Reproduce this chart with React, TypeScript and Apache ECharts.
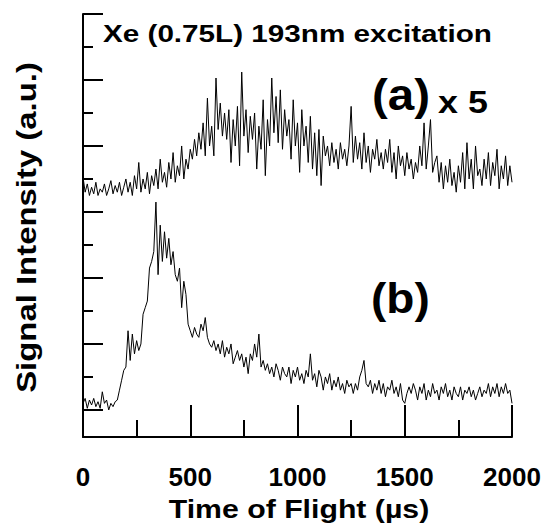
import React, { useEffect, useRef } from "react";
import * as echarts from "echarts";

// Sampling grid of the time-of-flight axis (µs), one sample every 10 µs
const TIME = Array.from({ length: 201 }, (_, i) => i * 10);

// Tick marks / labels
const X_TICK_LABELS = [0, 500, 1000, 1500, 2000];
const X_MAJOR_TICKS = [500, 1000, 1500, 2000];
const X_MINOR_TICKS = [250, 750, 1250, 1750];
const Y_MAJOR_TICKS = [0, 2, 4, 6, 8, 10, 12];
const Y_MINOR_TICKS = [1, 3, 5, 7, 9, 11];

// Trace (a) x 5 (offset upward)
const TRACE_A = [
  7.06, 6.6, 6.85, 6.5, 6.75, 6.55, 6.9, 6.5, 6.7, 6.6,
  6.85, 6.5, 6.7, 6.95, 6.55, 6.8, 6.6, 6.9, 6.5, 6.75,
  7.0, 6.6, 6.9, 6.5, 7.1, 6.7, 7.5, 6.6, 7.0, 6.7,
  7.2, 6.55, 7.1, 6.8, 7.3, 6.7, 7.6, 6.9, 7.2, 6.75,
  7.5, 7.0, 7.8, 6.9, 7.4, 7.1, 8.0, 7.0, 7.6, 7.3,
  7.9, 7.6, 8.2, 7.7, 8.4, 7.9, 8.7, 7.7, 9.45, 8.0,
  8.6, 7.7, 10.06, 8.5, 9.3, 8.3, 9.0, 8.2, 9.1, 7.5,
  8.8, 8.0, 9.2, 7.4, 10.24, 8.3, 9.1, 7.8, 8.9, 8.2,
  9.0, 7.3, 8.6, 7.9, 9.4, 7.1, 8.8, 8.0, 10.06, 8.4,
  9.5, 8.1, 9.7, 7.9, 9.1, 8.3, 8.8, 7.6, 9.4, 8.0,
  8.7, 7.2, 9.1, 8.0, 8.6, 7.5, 8.9, 7.3, 8.4, 7.1,
  8.5, 6.8, 8.3, 7.7, 8.0, 7.4, 8.1, 7.5, 7.9, 7.3,
  8.1, 7.6, 7.9, 7.4, 8.0, 9.2, 7.5, 8.3, 7.6, 8.1,
  7.3, 8.4, 7.5, 8.0, 7.2, 7.9, 7.6, 8.2, 7.4, 7.8,
  7.3, 7.9, 7.5, 8.2, 7.2, 7.8, 7.0, 8.0, 7.4, 7.7,
  7.1, 7.8, 7.3, 7.6, 7.0, 7.5, 7.2, 8.0, 7.4, 8.7,
  7.3, 8.0, 8.8, 7.2, 7.5, 7.7, 6.9, 7.5, 6.7, 7.4,
  6.9, 7.6, 6.8, 7.2, 6.6, 7.4, 6.9, 7.8, 6.7, 8.1,
  7.0, 7.6, 6.7, 8.0, 7.1, 7.3, 6.8, 7.6, 7.0, 7.8,
  6.8, 7.5, 7.1, 7.9, 6.7, 7.4, 7.0, 7.7, 6.8, 7.4,
  6.9,
];

// Trace (b)
const TRACE_B = [
  0.2, 0.35, 0.05, 0.3, 0.15, 0.35, 0.1, 0.25, 0.05, 0.55,
  0.2, 0.3, 0.0, 0.2, 0.1, 0.25, 0.3, 0.6, 0.9, 1.2,
  1.3, 2.4, 1.5, 2.3, 1.7, 2.1, 1.8, 2.0, 2.9, 3.1,
  3.3, 4.3, 4.5, 4.8, 6.3, 4.1, 5.6, 4.5, 5.4, 4.6,
  5.2, 4.4, 4.8, 4.1, 3.9, 4.3, 3.1, 3.9, 3.5, 2.6,
  2.4, 2.2, 2.5, 2.3, 2.2, 2.6, 2.4, 2.8, 2.2, 2.0,
  1.9, 2.1, 1.8, 2.0, 1.7, 2.1, 1.6, 1.9, 1.7, 2.0,
  1.4, 1.6, 1.8, 1.5, 1.7, 1.3, 1.6, 1.1, 1.7, 1.5,
  2.0, 1.6, 2.3, 1.3, 1.5, 1.2, 1.4, 1.1, 1.3, 1.0,
  1.4, 1.2, 0.9, 1.3, 1.1, 1.0, 1.3, 0.8, 1.2, 1.0,
  1.3, 0.9, 1.1, 0.8, 1.2, 1.0, 1.7, 0.9, 1.1, 0.7,
  1.2, 1.0, 0.6, 1.0, 0.8, 1.1, 0.6, 0.9, 0.7, 1.0,
  0.6, 0.8, 0.5, 0.9, 0.7, 0.8, 0.5, 0.8, 0.6, 1.0,
  1.2, 1.5, 0.8, 0.7, 0.9, 0.5, 0.8, 0.6, 0.9, 0.5,
  0.8, 0.4, 0.7, 0.6, 0.9, 0.5, 0.7, 0.4, 0.8, 0.3,
  0.2, 0.5, 0.7, 0.5, 0.8, 0.6, 0.3, 0.7, 0.5, 0.8,
  0.3, 0.6, 0.4, 0.8, 0.5, 0.6, 0.3, 0.7, 0.5, 0.8,
  0.4, 0.6, 0.3, 0.7, 0.5, 0.4, 0.7, 0.3, 0.6, 0.5,
  0.7, 0.4, 0.6, 0.3, 0.5, 0.7, 0.4, 0.6, 0.5, 0.8,
  0.4, 0.7, 0.5, 0.8, 0.4, 0.7, 0.5, 0.8, 0.5, 0.6,
  0.2,
];

const FONT = '"Liberation Sans", Arial, Helvetica, sans-serif';
const BLACK = "#000";

export default function App() {
  const ref = useRef<HTMLDivElement>(null);

  useEffect(() => {
    if (!ref.current) return;
    const chart = echarts.init(ref.current, undefined, { renderer: "svg" });

    const tickStyle = { color: BLACK, width: 2 };
    const yBase = {
      type: "value" as const,
      min: -0.82,
      max: 12,
      position: "left" as const,
      offset: 0,
      axisLabel: { show: false },
      splitLine: { show: false },
    };
    const xBase = {
      type: "value" as const,
      min: 0,
      max: 2000,
      position: "bottom" as const,
      offset: 0,
      splitLine: { show: false },
    };

    chart.setOption({
      animation: false,
      backgroundColor: "#fff",
      grid: { left: 83, top: 14, right: 38, bottom: 86 },
      xAxis: [
        {
          ...xBase,
          axisLine: { show: true, onZero: false, lineStyle: { color: BLACK, width: 2 } },
          axisTick: {
            show: true,
            inside: true,
            length: 32,
            lineStyle: tickStyle,
            customValues: X_MAJOR_TICKS,
          },
          axisLabel: {
            show: true,
            customValues: X_TICK_LABELS,
            formatter: (v: number) => String(v),
            margin: 27,
            color: BLACK,
            fontSize: 26,
            fontWeight: "bold",
            fontFamily: FONT,
          },
        },
        {
          ...xBase,
          axisLine: { show: false, onZero: false },
          axisTick: {
            show: true,
            inside: true,
            length: 17,
            lineStyle: tickStyle,
            customValues: X_MINOR_TICKS,
          },
          axisLabel: { show: false },
        },
      ],
      yAxis: [
        {
          ...yBase,
          axisLine: { show: true, onZero: false, lineStyle: { color: BLACK, width: 2 } },
          axisTick: {
            show: true,
            inside: true,
            length: 20,
            lineStyle: tickStyle,
            customValues: Y_MAJOR_TICKS,
          },
        },
        {
          ...yBase,
          axisLine: { show: false, onZero: false },
          axisTick: {
            show: true,
            inside: true,
            length: 10,
            lineStyle: tickStyle,
            customValues: Y_MINOR_TICKS,
          },
        },
      ],
      series: [
        {
          name: "(a) x 5",
          type: "line",
          xAxisIndex: 0,
          yAxisIndex: 0,
          data: TIME.map((t, i) => [t, TRACE_A[i]]),
          showSymbol: false,
          symbol: "none",
          lineStyle: { color: BLACK, width: 1 },
          silent: true,
        },
        {
          name: "(b)",
          type: "line",
          xAxisIndex: 0,
          yAxisIndex: 0,
          data: TIME.map((t, i) => [t, TRACE_B[i]]),
          showSymbol: false,
          symbol: "none",
          lineStyle: { color: BLACK, width: 1 },
          silent: true,
        },
      ],
      graphic: [
        {
          type: "text",
          x: 103,
          y: 34,
          scaleX: 1.236,
          style: {
            text: "Xe (0.75L) 193nm excitation",
            fill: BLACK,
            fontSize: 24,
            fontWeight: "bold",
            fontFamily: FONT,
            align: "left",
            verticalAlign: "middle",
          },
        },
        {
          type: "text",
          x: 372,
          y: 95,
          scaleX: 1.08,
          style: {
            text: "(a)",
            fill: BLACK,
            fontSize: 44,
            fontWeight: "bold",
            fontFamily: FONT,
            align: "left",
            verticalAlign: "middle",
          },
        },
        {
          type: "text",
          x: 438,
          y: 102,
          scaleX: 1.12,
          style: {
            text: "x 5",
            fill: BLACK,
            fontSize: 32,
            fontWeight: "bold",
            fontFamily: FONT,
            align: "left",
            verticalAlign: "middle",
          },
        },
        {
          type: "text",
          x: 371,
          y: 298,
          scaleX: 1.07,
          style: {
            text: "(b)",
            fill: BLACK,
            fontSize: 43,
            fontWeight: "bold",
            fontFamily: FONT,
            align: "left",
            verticalAlign: "middle",
          },
        },
        {
          type: "text",
          x: 26,
          y: 227.5,
          rotation: Math.PI / 2,
          scaleX: 1.175,
          style: {
            text: "Signal Intensity (a.u.)",
            fill: BLACK,
            fontSize: 28,
            fontWeight: "bold",
            fontFamily: FONT,
            align: "center",
            verticalAlign: "middle",
          },
        },
        {
          type: "text",
          x: 299,
          y: 509,
          scaleX: 1.21,
          style: {
            text: "Time of Flight (µs)",
            fill: BLACK,
            fontSize: 25,
            fontWeight: "bold",
            fontFamily: FONT,
            align: "center",
            verticalAlign: "middle",
          },
        },
      ],
    });

    return () => chart.dispose();
  }, []);

  return (
    <div
      ref={ref}
      style={{ position: "fixed", left: 0, top: 0, width: 550, height: 523, background: "#fff" }}
    />
  );
}
